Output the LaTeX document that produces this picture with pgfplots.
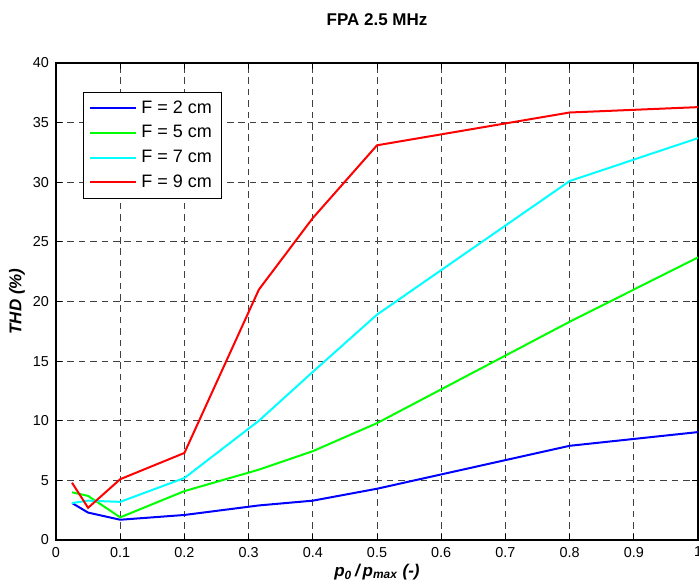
\documentclass[border=0pt]{standalone}
\usepackage{pgfplots}
\pgfplotsset{compat=1.18}
\usepackage{fontspec}
\setmainfont{Liberation Sans}
\definecolor{mblue}{rgb}{0,0,1}
\definecolor{mgreen}{rgb}{0,1,0}
\definecolor{mcyan}{rgb}{0,1,1}
\definecolor{mred}{rgb}{1,0,0}
\begin{document}
\begin{tikzpicture}
\begin{axis}[
  at={(28pt,22.5pt)}, anchor=south west,
  scale only axis, width=321pt, height=238.5pt,
  xmin=0, xmax=1, ymin=0, ymax=40,
  xtick={0,0.1,...,1.0}, ytick={0,5,...,40},
  xticklabels={0,0.1,0.2,0.3,0.4,0.5,0.6,0.7,0.8,0.9,1},
  /pgf/number format/assume math mode=true,
  tick align=inside, tick pos=both,
  major tick length=3pt,
  tick style={black, line width=0.5pt},
  axis line style={black, line width=0.6pt},
  ticklabel style={font=\fontsize{7.2}{8}\selectfont},
  grid=major,
  major grid style={black!75, line width=0.4pt, dash pattern=on 3.3pt off 2.4pt},
  title={\textbf{FPA 2.5 MHz}},
  title style={at={(0.5,1)}, anchor=center, yshift=15.5pt, font=\fontsize{8.5}{10}\selectfont},
  xlabel={\textbf{\textit{p\textsubscript{0}\,/\,p\textsubscript{max} (-)}}},
  ylabel={\textbf{\textit{THD (\%)}}},
  xlabel style={font=\fontsize{8.5}{10}\selectfont, at={(0.5,0)}, anchor=center, yshift=-16pt},
  ylabel style={font=\fontsize{8.5}{10}\selectfont, at={(axis description cs:-0.0607,0.5)}, anchor=center},
  legend style={at={(0.042,0.939)}, anchor=north west, draw=black, line width=0.5pt,
    font=\fontsize{9}{10}\selectfont, inner xsep=3pt, inner ysep=2pt, row sep=0.6pt},
  legend cell align=left,
  legend image code/.code={\draw[#1, line width=1pt] (0pt,0pt) -- (23pt,0pt);},
  every axis plot/.append style={line width=1pt},
]
\addplot[mblue] coordinates {(0.025,3.1)(0.05,2.3)(0.1,1.7)(0.2,2.1)(0.316,2.9)(0.4,3.3)(0.5,4.3)(0.8,7.9)(1.0,9.05)};
\addlegendentry{F = 2 cm}
\addplot[mgreen] coordinates {(0.025,4.0)(0.05,3.7)(0.1,1.9)(0.2,4.1)(0.316,5.9)(0.4,7.45)(0.5,9.8)(0.8,18.3)(1.0,23.7)};
\addlegendentry{F = 5 cm}
\addplot[mcyan] coordinates {(0.025,3.1)(0.05,3.3)(0.1,3.2)(0.2,5.2)(0.316,10.0)(0.4,14.1)(0.5,18.9)(0.8,30.1)(1.0,33.7)};
\addlegendentry{F = 7 cm}
\addplot[mred] coordinates {(0.025,4.8)(0.05,2.7)(0.1,5.1)(0.2,7.3)(0.316,21.0)(0.4,27.0)(0.5,33.1)(0.8,35.85)(1.0,36.3)};
\addlegendentry{F = 9 cm}
\end{axis}
\pgfresetboundingbox
\useasboundingbox (0,0) rectangle (349.5pt,292.5pt);
\end{tikzpicture}
\end{document}
